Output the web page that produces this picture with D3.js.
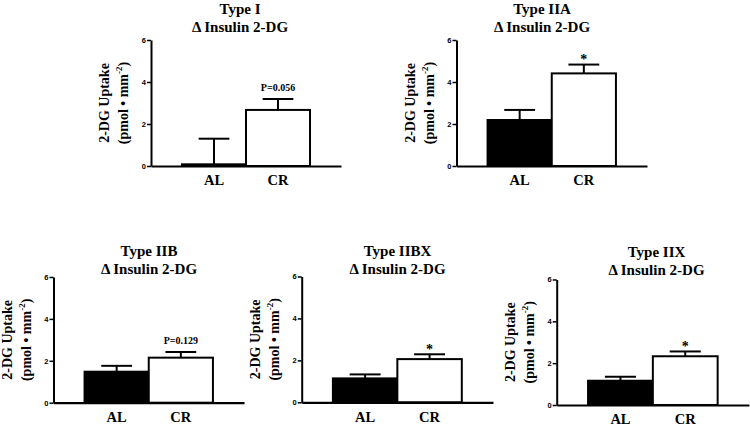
<!DOCTYPE html>
<html>
<head>
<meta charset="utf-8">
<script src="https://cdn.jsdelivr.net/npm/d3@7"></script>
<style>
  body { margin: 0; background: #fff; }
  svg { display: block; }
</style>
</head>
<body>
<svg id="chart" width="750" height="428"></svg>
<script>
// fibre types and values (2-DG uptake, pmol/mm^2)
var fiberTypes = ["Type I", "Type IIA", "Type IIB", "Type IIBX", "Type IIX"];
var groups = ["AL", "CR"];
var alMean = [0.08, 2.19, 1.48, 1.14, 1.16];
var alSem  = [1.22, 0.48, 0.28, 0.19, 0.19];
var crMean = [2.67, 4.41, 2.15, 2.06, 2.33];
var crSem  = [0.52, 0.42, 0.27, 0.23, 0.23];
var crNote = ["P=0.056", "*", "P=0.129", "*", "*"];
var yTicks = [0, 2, 4, 6];

// panel placement (axis left/right, top of y axis, zero line, title centre)
var layout = [
  {x0: 151, x1: 341, top: 40, zero: 166, tx: 240, ty: 14},
  {x0: 456.5, x1: 647, top: 40, zero: 166, tx: 542, ty: 14},
  {x0: 53.5, x1: 244, top: 277, zero: 402.7, tx: 149, ty: 256},
  {x0: 301.7, x1: 493, top: 276.5, zero: 402.3, tx: 397.5, ty: 256},
  {x0: 556.7, x1: 749, top: 279.5, zero: 405, tx: 656.5, ty: 257}
];

var serif = "'Liberation Serif', 'Times New Roman', serif";
var sans = "'Liberation Sans', Arial, sans-serif";
var svg = d3.select("#chart");

fiberTypes.forEach(function(name, i) {
  var L = layout[i];
  var g = svg.append("g");

  var x = d3.scaleBand().domain(groups).range([L.x0, L.x1])
    .paddingInner(0).paddingOuter(0.484);
  var y = d3.scaleLinear().domain([0, 6]).range([L.zero, L.top]);

  var bars = [
    {grp: "AL", mean: alMean[i], sem: alSem[i], fill: "#000"},
    {grp: "CR", mean: crMean[i], sem: crSem[i], fill: "#fff"}
  ];

  // error bars (upper only), drawn under the bars
  var capW = x.bandwidth() * 0.48;
  var eb = g.selectAll(".eb").data(bars).enter().append("g")
    .attr("stroke", "#000").attr("stroke-width", 2);
  eb.append("line")
    .attr("x1", d => x(d.grp) + x.bandwidth() / 2)
    .attr("x2", d => x(d.grp) + x.bandwidth() / 2)
    .attr("y1", d => y(d.mean))
    .attr("y2", d => y(d.mean + d.sem));
  eb.append("line")
    .attr("x1", d => x(d.grp) + x.bandwidth() / 2 - capW / 2)
    .attr("x2", d => x(d.grp) + x.bandwidth() / 2 + capW / 2)
    .attr("y1", d => y(d.mean + d.sem))
    .attr("y2", d => y(d.mean + d.sem));

  g.selectAll(".bar").data(bars).enter().append("rect")
    .attr("x", d => x(d.grp))
    .attr("y", d => y(d.mean))
    .attr("width", x.bandwidth())
    .attr("height", d => y(0) - y(d.mean))
    .attr("fill", d => d.fill)
    .attr("stroke", "#000")
    .attr("stroke-width", 2);

  // y axis
  var ya = g.append("g")
    .attr("transform", "translate(" + L.x0 + ",0)")
    .call(d3.axisLeft(y).tickValues(yTicks).tickFormat(d3.format("d"))
      .tickSize(4).tickSizeOuter(0).tickPadding(1));
  ya.select(".domain").attr("stroke-width", 2);
  ya.selectAll(".tick line").attr("stroke-width", 1.5);
  ya.selectAll("text").attr("font-family", sans).attr("font-weight", "bold")
    .attr("font-size", 7.5).attr("fill", "#000");

  // x axis
  var xa = g.append("g")
    .attr("transform", "translate(0," + L.zero + ")")
    .call(d3.axisBottom(x).tickSize(0).tickSizeOuter(0).tickPadding(9));
  xa.select(".domain").attr("stroke-width", 2.2);
  xa.selectAll("text").attr("font-family", serif).attr("font-weight", "bold")
    .attr("font-size", 14.5).attr("fill", "#000");

  // significance annotation above CR
  var crTop = y(crMean[i] + crSem[i]);
  var isStar = crNote[i] === "*";
  g.append("text")
    .attr("x", x("CR") + x.bandwidth() / 2)
    .attr("y", isStar ? crTop - 0.5 : crTop - 8)
    .attr("text-anchor", "middle")
    .attr("font-family", serif).attr("font-weight", "bold")
    .attr("font-size", isStar ? 14 : 10)
    .text(crNote[i]);

  // titles
  g.append("text")
    .attr("x", L.tx).attr("y", L.ty)
    .attr("text-anchor", "middle")
    .attr("font-family", serif).attr("font-weight", "bold").attr("font-size", 15)
    .text(name);
  g.append("text")
    .attr("x", L.tx).attr("y", L.ty + 18)
    .attr("text-anchor", "middle")
    .attr("font-family", serif).attr("font-weight", "bold").attr("font-size", 15)
    .text("\u0394 Insulin 2-DG");

  // y axis title
  var cy = (L.zero + L.top) / 2;
  g.append("text")
    .attr("transform", "translate(" + (L.x0 - 42) + "," + cy + ") rotate(-90)")
    .attr("text-anchor", "middle")
    .attr("font-family", serif).attr("font-weight", "bold").attr("font-size", 14)
    .text("2-DG Uptake");
  var yl = g.append("text")
    .attr("transform", "translate(" + (L.x0 - 23) + "," + cy + ") rotate(-90)")
    .attr("text-anchor", "middle")
    .attr("font-family", serif).attr("font-weight", "bold").attr("font-size", 14);
  yl.append("tspan").text("(pmol \u2022 mm");
  yl.append("tspan").attr("font-size", 9).attr("dy", -6).text("-2");
  yl.append("tspan").attr("dy", 6).text(")");
});
</script>
</body>
</html>
